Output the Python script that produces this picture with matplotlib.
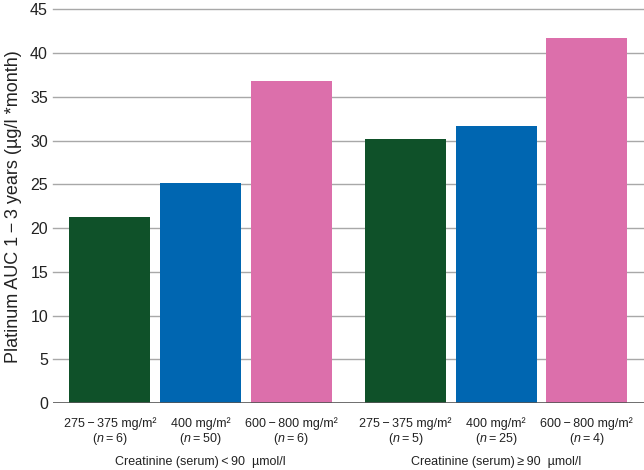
import matplotlib
matplotlib.use("Agg")
import matplotlib.pyplot as plt
import matplotlib.transforms as mtransforms

plt.rcParams['font.family'] = ['Liberation Sans', 'DejaVu Sans']
plt.rcParams['mathtext.fontset'] = 'custom'
plt.rcParams['mathtext.rm'] = 'Liberation Sans'
plt.rcParams['mathtext.it'] = 'Liberation Sans:italic'

# ---------------------------------------------------------
# Data
# ---------------------------------------------------------
doses = ["275\u2009\u2212\u2009375 mg/m\u00b2", "400 mg/m\u00b2", "600\u2009\u2212\u2009800 mg/m\u00b2"]
groups = ["Creatinine (serum)\u2009<\u200990  \u00b5mol/l", "Creatinine (serum)\u2009\u2265\u200990  \u00b5mol/l"]
auc_low_creat = [21.3, 25.1, 36.8]
auc_high_creat = [30.2, 31.7, 41.7]
n_low_creat = [6, 50, 6]
n_high_creat = [5, 25, 4]
y_ticks = [0, 5, 10, 15, 20, 25, 30, 35, 40, 45]

colors = ["#0f5129", "#0066b1", "#dc6fab"]

# positions: bar pitch = 1, group offset a bit more than 3
group_offset = 3.26
pos_low = [0, 1, 2]
pos_high = [p + group_offset for p in pos_low]

fig = plt.figure(figsize=(6.44, 4.70), dpi=100)
ax = fig.add_axes([53 / 644, 67 / 470, 1 - 53 / 644, (403 - 9.3) / 470])

ax.bar(pos_low, auc_low_creat, width=0.89, color=colors, zorder=2)
ax.bar(pos_high, auc_high_creat, width=0.89, color=colors, zorder=2)

ax.set_xlim(-0.626, 5.89)
ax.set_ylim(0, 45)
ax.set_yticks(y_ticks)
ax.tick_params(axis='y', length=0, pad=3.6, labelsize=11.5, labelcolor="#222222")
ax.set_xticks([])

for y in y_ticks[1:]:
    ax.axhline(y, color="#a8a8a8", lw=1.0, zorder=1, clip_on=False)
ax.axhline(0, color="#555555", lw=1.2, zorder=3)

for s in ax.spines.values():
    s.set_visible(False)

ax.set_ylabel("Platinum AUC 1\u2009\u2212\u20093 years (\u00b5g/l *month)", fontsize=13,
              color="#222222", labelpad=6)

# category labels under the bars
trans = mtransforms.blended_transform_factory(ax.transData, fig.transFigure)
for positions, ns in [(pos_low, n_low_creat), (pos_high, n_high_creat)]:
    for x, dose, n in zip(positions, doses, ns):
        ax.text(x, 1 - 424 / 470, dose, transform=trans, ha='center', va='center',
                fontsize=9, color="#222222")
        ax.text(x, 1 - 439 / 470, "($\\it{n}$\u2009=\u2009%d)" % n, transform=trans,
                ha='center', va='center', fontsize=9, color="#222222")

for positions, label in [(pos_low, groups[0]), (pos_high, groups[1])]:
    ax.text(positions[1], 1 - 462 / 470, label, transform=trans, ha='center',
            va='center', fontsize=9, color="#222222")

fig.savefig("out.png", dpi=100)
